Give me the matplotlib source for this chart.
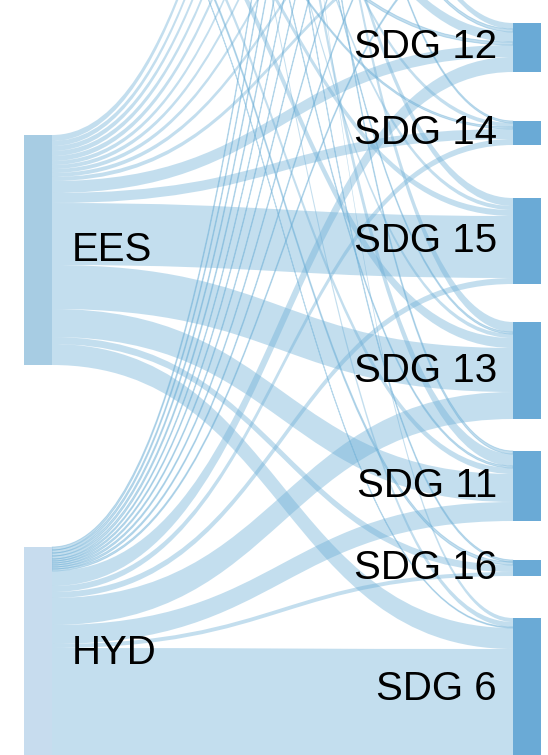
import numpy as np
import matplotlib.pyplot as plt
from matplotlib.path import Path
from matplotlib.patches import PathPatch, Rectangle

# nodes, top to bottom (only the lower part of the diagram is in view)
sources = ["BIO", "GEO", "SOL", "WND", "EES", "HYD"]
targets = ["SDG 7", "SDG 9", "SDG 8", "SDG 3", "SDG 1", "SDG 2", "SDG 4", "SDG 17",
           "SDG 5", "SDG 10", "SDG 12", "SDG 14", "SDG 15", "SDG 13", "SDG 11",
           "SDG 16", "SDG 6"]

# flow values per source, one entry per target (same order as targets)
bio = [0, 0, 0, 0, 0, 0, 0, 0, 0, 0, 6, 2, 0, 10, 3, 0, 4]
geo = [0, 0, 0, 0, 0, 0, 0, 0, 0, 0, 3, 0, 8, 2, 12, 2, 0]
sol = [0, 0, 0, 0, 0, 0, 0, 0, 0, 0, 10, 4, 4, 4, 2, 0, 5]
wnd = [0, 0, 0, 0, 0, 0, 0, 0, 0, 0, 3, 2, 6, 10, 6, 3, 1]
ees = [6, 5, 5, 5, 5, 4, 4, 4, 4, 4, 12, 10, 62, 44, 28, 7, 21]
hyd = [3, 3, 3, 3, 2, 2, 2, 2, 2, 2, 15, 6, 6, 27, 19, 4, 110]

flows = np.array([bio, geo, sol, wnd, ees, hyd], dtype=float)

# layout in pixels
left_x, right_x, node_w = 24, 513, 28
left_top = -1300
left_gaps = [375, 323, 321, 304, 182]
right_top = -948
right_gaps = [90, 90, 90, 90, 90, 90, 90, 90, 90, 91, 49, 53, 38, 32, 39, 42]

link_col = '#6baed6'
tgt_col = '#6aaad6'
src_cols = ['#a7cce3', '#a7cce3', '#a7cce3', '#a7cce3', '#a7cce3', '#c7dcee']

src_h = flows.sum(axis=1)
tgt_h = flows.sum(axis=0)

def tops(start, heights, gaps):
    out = [start]
    for h, g in zip(heights[:-1], gaps):
        out.append(out[-1] + h + g)
    return np.array(out)

src_y = tops(left_top, src_h, left_gaps)
tgt_y = tops(right_top, tgt_h, right_gaps)

fig = plt.figure(figsize=(5.48, 7.55), dpi=100)
ax = fig.add_axes([0, 0, 1, 1])
ax.set_xlim(0, 548)
ax.set_ylim(755, 0)
ax.axis('off')

x0 = left_x + node_w
x1 = right_x
xm = (x0 + x1) / 2
src_off = src_y.copy()
tgt_off = tgt_y.copy()
for i in range(len(sources)):
    for j in range(len(targets)):
        v = flows[i, j]
        if v == 0:
            continue
        s0, t0 = src_off[i], tgt_off[j]
        src_off[i] += v
        tgt_off[j] += v
        verts = [(x0, s0), (xm, s0), (xm, t0), (x1, t0),
                 (x1, t0 + v), (xm, t0 + v), (xm, s0 + v), (x0, s0 + v), (x0, s0)]
        codes = [Path.MOVETO, Path.CURVE4, Path.CURVE4, Path.CURVE4,
                 Path.LINETO, Path.CURVE4, Path.CURVE4, Path.CURVE4, Path.CLOSEPOLY]
        # thin links get a hairline so steep ones stay visible
        lw = 0.7 if v <= 3 else 0
        ax.add_patch(PathPatch(Path(verts, codes), facecolor=link_col,
                               edgecolor=link_col if lw else 'none', linewidth=lw,
                               alpha=0.4, zorder=1))

ymin, ymax = ax.get_ylim()[1], ax.get_ylim()[0]

for i, name in enumerate(sources):
    ax.add_patch(Rectangle((left_x, src_y[i]), node_w, src_h[i],
                           facecolor=src_cols[i], edgecolor='none', zorder=2))
    yc = src_y[i] + src_h[i] / 2
    if ymin < yc < ymax:  # label only nodes in view
        ax.text(x0 + 20, yc, name, ha='left', va='center',
                fontsize=29, family='Liberation Sans', zorder=3)

for j, name in enumerate(targets):
    ax.add_patch(Rectangle((right_x, tgt_y[j]), node_w, tgt_h[j],
                           facecolor=tgt_col, edgecolor='none', zorder=2))
    yc = tgt_y[j] + tgt_h[j] / 2
    if ymin < yc < ymax:
        ax.text(right_x - 16, yc, name, ha='right', va='center',
                fontsize=29, family='Liberation Sans', zorder=3)

plt.savefig('out.png', dpi=100)
plt.close()
